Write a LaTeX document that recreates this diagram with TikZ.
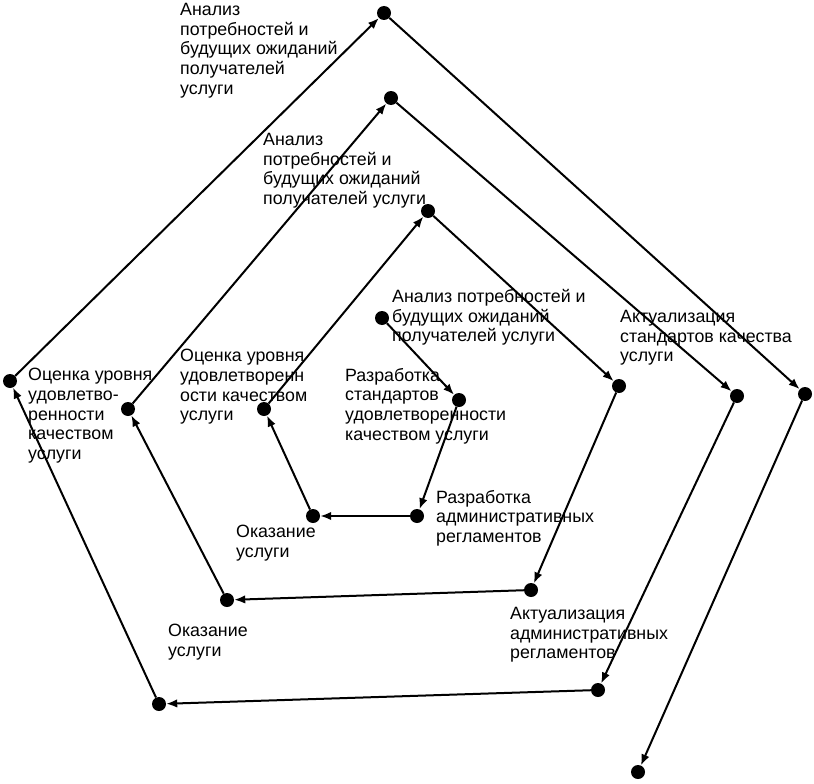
\documentclass[tikz,border=0pt]{standalone}
\usepackage{fontspec}
\setmainfont{Liberation Sans}
\usetikzlibrary{arrows.meta}
\begin{document}
\begin{tikzpicture}[x=1pt,y=-1pt,
  dot/.style={circle,fill=black,inner sep=0pt,minimum size=14pt},
  lbl/.style={anchor=north west,inner sep=0pt,align=left,font=\fontsize{17.8}{19.7}\selectfont},
  conn/.style={line width=2pt,-{Latex[length=11pt,width=8.5pt]}}]
\useasboundingbox (0,0) rectangle (814,784);
% dots
\node[dot] (a0) at (382,318) {};
\node[dot] (b1) at (459,400) {};
\node[dot] (c1) at (417,516) {};
\node[dot] (d1) at (313,516) {};
\node[dot] (e1) at (264,409) {};
\node[dot] (f1) at (428,211) {};
\node[dot] (g1) at (619,386) {};
\node[dot] (h1) at (531,590) {};
\node[dot] (i1) at (227,600) {};
\node[dot] (j1) at (128,409) {};
\node[dot] (k1) at (391,98) {};
\node[dot] (l1) at (737,396) {};
\node[dot] (m1) at (598,690) {};
\node[dot] (n1) at (159,704) {};
\node[dot] (o1) at (10,381) {};
\node[dot] (p1) at (384,13) {};
\node[dot] (q1) at (805,394) {};
\node[dot] (r1) at (638,772) {};
% connectors
\draw[conn] (a0) -- (b1);
\draw[conn] (b1) -- (c1);
\draw[conn] (c1) -- (d1);
\draw[conn] (d1) -- (e1);
\draw[conn] (e1) -- (f1);
\draw[conn] (f1) -- (g1);
\draw[conn] (g1) -- (h1);
\draw[conn] (h1) -- (i1);
\draw[conn] (i1) -- (j1);
\draw[conn] (j1) -- (k1);
\draw[conn] (k1) -- (l1);
\draw[conn] (l1) -- (m1);
\draw[conn] (m1) -- (n1);
\draw[conn] (n1) -- (o1);
\draw[conn] (o1) -- (p1);
\draw[conn] (p1) -- (q1);
\draw[conn] (q1) -- (r1);
% labels
\node[lbl] (t1) at (180,3) {Анализ\\потребностей и\\будущих ожиданий\\получателей\\услуги};
\node[lbl] (t2) at (263,133) {Анализ\\потребностей и\\будущих ожиданий\\получателей услуги};
\node[lbl] (t3) at (392,289) {Анализ потребностей и\\будущих ожиданий\\получателей услуги};
\node[lbl] (t4) at (345,368) {Разработка\\стандартов\\удовлетворенности\\качеством услуги};
\node[lbl] (t5) at (620,310) {Актуализация\\стандартов качества\\услуги};
\node[lbl] (t6) at (180,349) {Оценка уровня\\удовлетворенн\\ости качеством\\услуги};
\node[lbl] (t7) at (28,368) {Оценка уровня\\удовлетво-\\ренности\\качеством\\услуги};
\node[lbl] (t8) at (236,525) {Оказание\\услуги};
\node[lbl] (t9) at (436,490) {Разработка\\административных\\регламентов};
\node[lbl] (t10) at (168,624) {Оказание\\услуги};
\node[lbl] (t11) at (510,607) {Актуализация\\административных\\регламентов};
\end{tikzpicture}
\end{document}
